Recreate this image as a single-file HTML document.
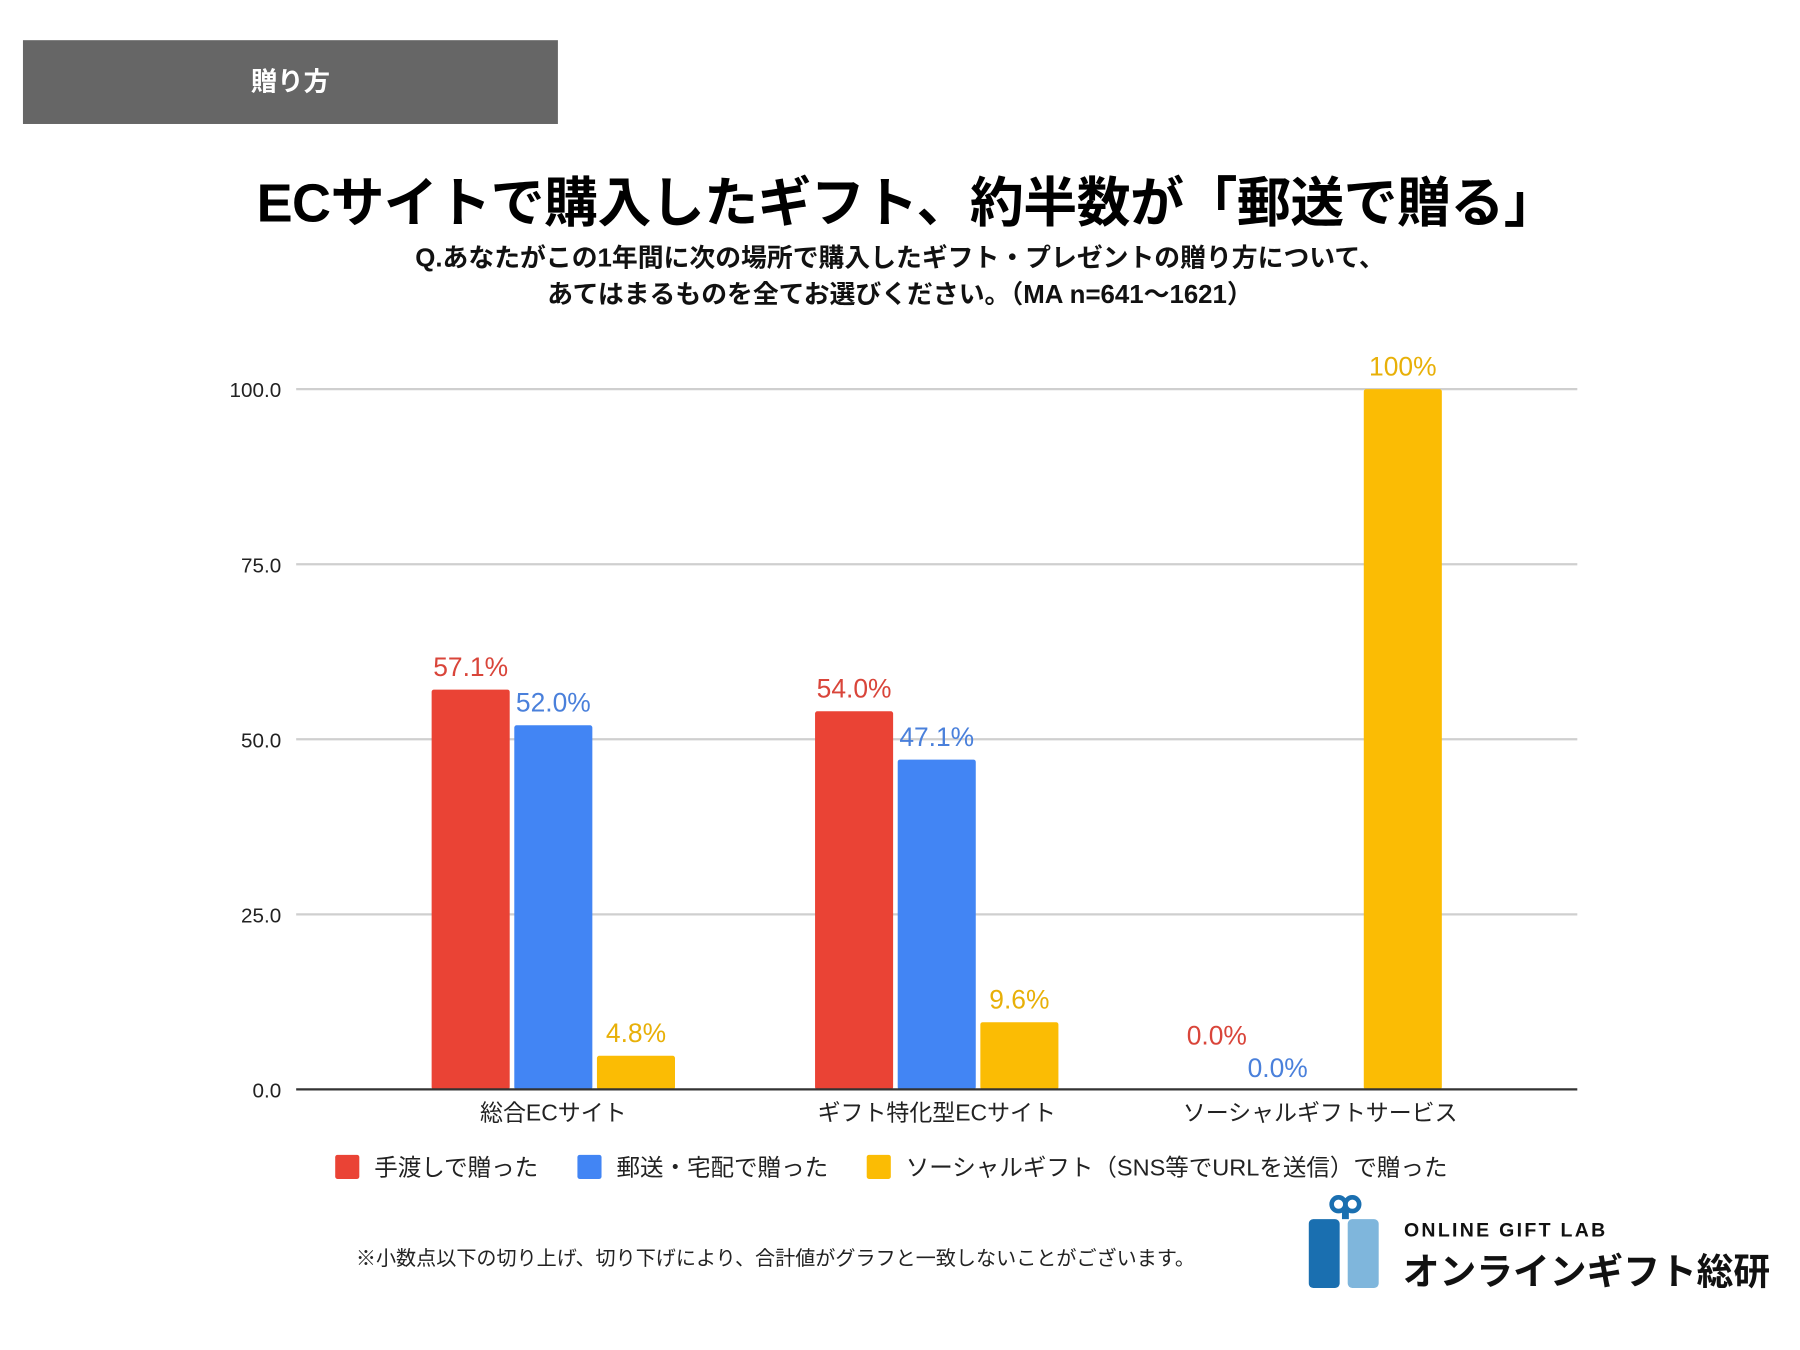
<!DOCTYPE html>
<html><head><meta charset="utf-8">
<style>
html,body{margin:0;padding:0;background:#fff;overflow:hidden}
#wrap{width:1800px;height:1350px;position:relative;overflow:hidden}
#page{width:1568px;height:1176px;position:absolute;left:0;top:0;transform:scale(1.14796);transform-origin:0 0;font-family:"Liberation Sans","Noto Sans CJK JP",sans-serif}
.abs{position:absolute}
</style></head><body>
<div id="wrap"><div id="page">
<div class="abs" style="left:20px;top:35px;width:466px;height:73px;background:#666"></div>
<div class="abs" style="left:20px;top:35px;width:466px;height:73px;line-height:73px;text-align:center;color:#fff;font-weight:bold;font-size:23px">贈り方</div>
<div class="abs" style="left:6px;top:138px;width:1568px;text-align:center;font-weight:bold;font-size:47px;letter-spacing:-0.5px;color:#000;white-space:nowrap">ECサイトで購入したギフト、約半数が「郵送で贈る」</div>
<div class="abs" style="left:0;top:209px;width:1568px;text-align:center;font-weight:bold;font-size:22.5px;line-height:32px;color:#111;white-space:nowrap">Q.あなたがこの1年間に次の場所で購入したギフト・プレゼントの贈り方について、<br>あてはまるものを全てお選びください。（MA n=641～1621）</div>
<svg id="chart" class="abs" style="left:0;top:0" width="1568" height="1176"></svg>
<div class="abs" style="left:310px;top:1083px;font-size:17.5px;color:#222;white-space:nowrap">※小数点以下の切り上げ、切り下げにより、合計値がグラフと一致しないことがございます。</div>
<div class="abs" style="left:1140px;top:1040px;width:420px;height:90px">
  <svg width="64" height="84" style="position:absolute;left:0;top:0">
    <ellipse cx="26" cy="9" rx="6" ry="6" fill="none" stroke="#1a6fb0" stroke-width="4"/>
    <ellipse cx="38" cy="9" rx="6" ry="6" fill="none" stroke="#1a6fb0" stroke-width="4"/>
    <rect x="29" y="12" width="6" height="10" fill="#1a6fb0"/>
    <rect x="0" y="22" width="27" height="60" rx="4" fill="#1a6fb0"/>
    <rect x="34" y="22" width="27" height="60" rx="4" fill="#7fb6dc"/>
  </svg>
  <div style="position:absolute;left:83px;top:22px;font-size:17px;font-weight:bold;letter-spacing:2px;color:#111">ONLINE GIFT LAB</div>
  <div style="position:absolute;left:82px;top:43px;font-size:32px;font-weight:bold;color:#111;white-space:nowrap">オンラインギフト総研</div>
</div>
</div></div>
<script>
const categories=["総合ECサイト","ギフト特化型ECサイト","ソーシャルギフトサービス"];
const seriesNames=["手渡しで贈った","郵送・宅配で贈った","ソーシャルギフト（SNS等でURLを送信）で贈った"];
const handValues=[57.1,54.0,0.0];
const postValues=[52.0,47.1,0.0];
const socialValues=[4.8,9.6,100];
const handLabels=["57.1%","54.0%","0.0%"];
const postLabels=["52.0%","47.1%","0.0%"];
const socialLabels=["4.8%","9.6%","100%"];
const yTicks=[0,25,50,75,100];
const yTickLabels=["0.0","25.0","50.0","75.0","100.0"];

const NS="http://www.w3.org/2000/svg";
const svg=document.getElementById('chart');
const X0=258,X1=1374,Y0=949,Y100=339;
const colors=["#EA4335","#4285F4","#FBBC04"];
const labelColors=["#d9453a","#4a80db","#e8b008"];
function y(v){return Y0-(Y0-Y100)*v/100;}
const G0=482,GSTEP=334;
function gx(i){return G0+GSTEP*i;}
const barW=68,gap=4;
function bx(i,s){return gx(i)-barW*1.5-gap+s*(barW+gap);}
function mk(tag,attrs,text){const e=document.createElementNS(NS,tag);for(const k in attrs)e.setAttribute(k,attrs[k]);if(text!==undefined)e.textContent=text;svg.appendChild(e);return e;}
const FONT='"Liberation Sans","Noto Sans CJK JP",sans-serif';
yTicks.forEach((t,i)=>{
  if(t!==0){const g=mk('line',{x1:X0,x2:X1,y1:y(t),y2:y(t),stroke:'#cfcfcf','stroke-width':2});
  
  }
  const l=mk('text',{x:245,y:y(t)+7,'text-anchor':'end','font-size':18,fill:'#222','font-family':FONT},yTickLabels[i]);
  
  
});
const allVals=[handValues,postValues,socialValues];
const allLabels=[handLabels,postLabels,socialLabels];
categories.forEach((c,i)=>{
  for(let s=0;s<3;s++){
    const v=allVals[s][i];
    if(v>0){const r=mk('rect',{x:bx(i,s),y:y(v),width:barW,height:Y0-y(v),rx:2,fill:colors[s]});
    
    }
    let ty=y(v)-12, tx=bx(i,s)+barW/2;
    if(v===0){ty=(s===0)?Y0-39:Y0-11; tx=tx-(s===0?18:37);}
    const t=mk('text',{x:tx,y:ty,'text-anchor':'middle','font-size':23,fill:labelColors[s],'font-family':FONT},allLabels[s][i]);
    
    
  }
  const cl=mk('text',{x:gx(i),y:976,'text-anchor':'middle','font-size':20,fill:'#222','font-family':FONT},c);
  
  
});
const ax=mk('line',{x1:X0,x2:X1,y1:Y0,y2:Y0,stroke:'#333','stroke-width':2});


const legX=[292,503,755];
seriesNames.forEach((n,s)=>{
  const r=mk('rect',{x:legX[s],y:1006,width:21,height:21,rx:2,fill:colors[s]});
  
  
  const t=mk('text',{x:legX[s]+34,y:1024,'font-size':20.5,fill:'#222','font-family':FONT},n);
  
  
});
</script>
</body></html>
